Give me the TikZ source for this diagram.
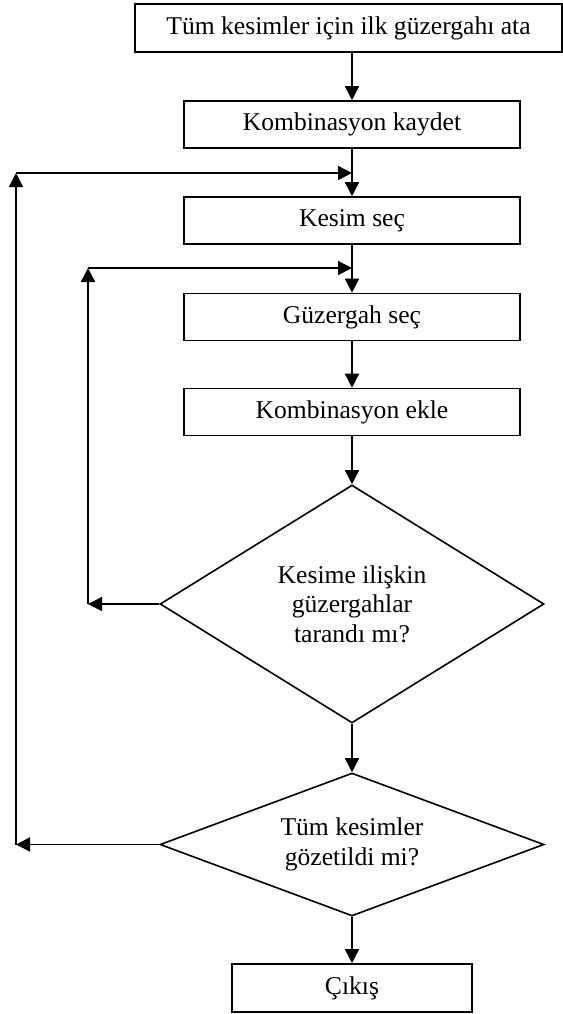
\documentclass[tikz,border=0pt]{standalone}
\usepackage{fontspec}
\setmainfont{Liberation Serif}
\usetikzlibrary{arrows.meta, shapes.geometric, positioning}
\tikzset{
  flow/.style     = {-{Triangle[length=7pt,width=7pt]}, line width=0.8pt, black},
  stepbox/.style  = {draw, line width=0.8pt, rectangle, inner sep=0pt,
                     minimum width=168pt, minimum height=23.5pt},
  askbox/.style   = {draw, line width=0.8pt, diamond, aspect=2, inner sep=0pt,
                     align=center, minimum width=192pt},
}

\begin{document}
\begin{tikzpicture}[x=0.5pt,y=-0.5pt, font=\fontsize{12.8}{14.8}\selectfont]
  \useasboundingbox (0,0) rectangle (563,1014);
  \node[stepbox, minimum width=213.5pt, minimum height=24pt] (init) at (348.5,28) {Tüm kesimler için ilk güzergahı ata};
  \node[stepbox] (save) at (352,124.5) {Kombinasyon kaydet};
  \node[stepbox] (cut)  at (352,220.5) {Kesim seç};
  \node[stepbox] (route) at (352,317) {Güzergah seç};
  \node[stepbox] (add)  at (352,412) {Kombinasyon ekle};
  \node[askbox, minimum height=119pt] (ask1) at (352,604) {Kesime ilişkin\\güzergahlar\\tarandı mı?};
  \node[askbox, minimum height=71.5pt] (ask2) at (352,844.5) {Tüm kesimler\\gözetildi mi?};
  \node[stepbox, minimum width=120pt, minimum height=24pt] (exit) at (352,988) {Çıkış};
  % loop corners and joins on the main line
  \coordinate (j1) at (352,173);
  \coordinate (j2) at (352,268);
  \coordinate (o1) at (16,173);
  \coordinate (o2) at (16,844.5);
  \coordinate (i1) at (88,268);
  \coordinate (i2) at (88,604);
  % main line
  \draw[flow] (init.south -| save.north) -- (save.north);
  \draw[flow] (save.south) -- (cut.north);
  \draw[flow] (cut.south) -- (route.north);
  \draw[flow] (route.south) -- (add.north);
  \draw[flow] (add.south) -- (ask1.north);
  \draw[flow] (ask1.south) -- (ask2.north);
  \draw[flow] (ask2.south) -- (exit.north);
  % inner loop: next route
  \draw[flow] (ask1.west) -- (i2);
  \draw[flow] (i2) -- (i1);
  \draw[flow] (i1) -- (j2);
  % outer loop: next cut
  \draw[flow] (ask2.west) -- (o2);
  \draw[flow] (o2) -- (o1);
  \draw[flow] (o1) -- (j1);
\end{tikzpicture}
\end{document}
